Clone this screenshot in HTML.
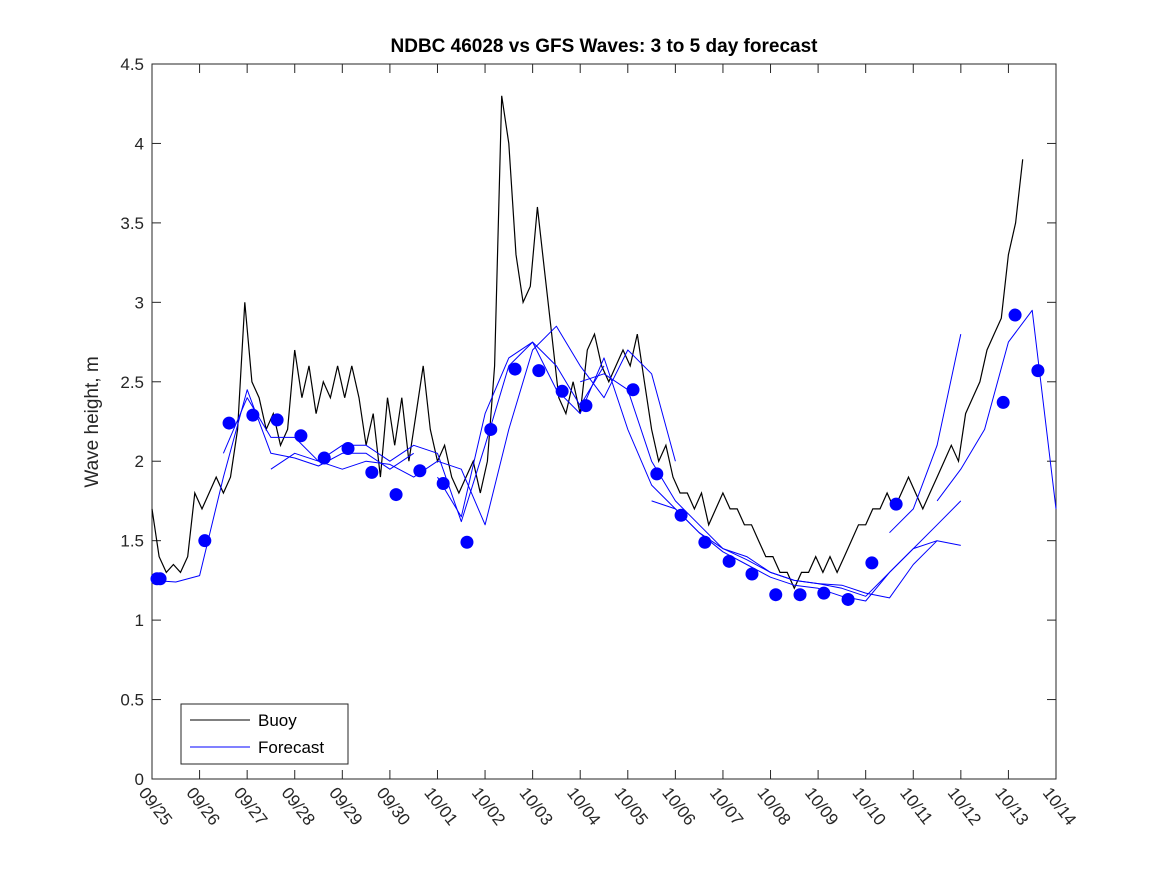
<!DOCTYPE html>
<html><head><meta charset="utf-8"><style>
body{margin:0;background:#fff;}
svg{display:block;font-family:"Liberation Sans","DejaVu Sans",sans-serif;}
</style></head><body>
<svg id="chart" width="1167" height="875" xmlns="http://www.w3.org/2000/svg">
<rect width="1167" height="875" fill="#fff"/>
<text x="604" y="52" text-anchor="middle" font-size="19" font-weight="bold" fill="#000">NDBC 46028 vs GFS Waves: 3 to 5 day forecast</text>
<text transform="translate(98,422) rotate(-90)" text-anchor="middle" font-size="19" fill="#262626">Wave height, m</text>
<g id="plot"></g>
</svg>
<script>
const xTickLabels=["09/25","09/26","09/27","09/28","09/29","09/30","10/01","10/02","10/03","10/04","10/05","10/06","10/07","10/08","10/09","10/10","10/11","10/12","10/13","10/14"];
const yTicks=[0,0.5,1,1.5,2,2.5,3,3.5,4,4.5];
const buoyStep=0.15;
const buoyHs=[1.7,1.4,1.3,1.35,1.3,1.4,1.8,1.7,1.8,1.9,1.8,1.9,2.2,3.0,2.5,2.4,2.2,2.3,2.1,2.2,2.7,2.4,2.6,2.3,2.5,2.4,2.6,2.4,2.6,2.4,2.1,2.3,1.9,2.4,2.1,2.4,2.0,2.3,2.6,2.2,2.0,2.1,1.9,1.8,1.9,2.0,1.8,2.0,2.6,4.3,4.0,3.3,3.0,3.1,3.6,3.2,2.8,2.4,2.3,2.5,2.3,2.7,2.8,2.6,2.5,2.6,2.7,2.6,2.8,2.5,2.2,2.0,2.1,1.9,1.8,1.8,1.7,1.8,1.6,1.7,1.8,1.7,1.7,1.6,1.6,1.5,1.4,1.4,1.3,1.3,1.2,1.3,1.3,1.4,1.3,1.4,1.3,1.4,1.5,1.6,1.6,1.7,1.7,1.8,1.7,1.8,1.9,1.8,1.7,1.8,1.9,2.0,2.1,2.0,2.3,2.4,2.5,2.7,2.8,2.9,3.3,3.5,3.9];
const fcStep=0.5;
const fcStarts=[0,1.5,2.5,6.0,9.0,10.5,15.5,16.5];
const fc1=[1.25,1.24,1.28,1.9,2.45,2.05,2.02,1.97,2.05,2.05,1.95,2.05];
const fc2=[2.05,2.4,2.15,2.15,2.0,2.1,2.1,2.0,2.1,2.05,1.62,2.1,2.6,2.75,2.6,2.35,2.6];
const fc3=[1.95,2.05,2.0,1.95,2.0,1.98,1.9,2.0,1.95,1.6,2.2,2.7,2.85,2.6,2.4,2.7,2.55,2.0];
const fc4=[1.9,1.65,2.3,2.65,2.75,2.45,2.3,2.65,2.2,1.85,1.7,1.55,1.43,1.35,1.27,1.22,1.2,1.15,1.12,1.3,1.45,1.5];
const fc5=[2.5,2.55,2.45,2.0,1.75,1.6,1.45,1.38,1.3,1.25,1.23,1.22,1.17,1.14,1.35,1.5,1.47];
const fc6=[1.75,1.7,1.55,1.45,1.4,1.3,1.25,1.23,1.2,1.15,1.3,1.45,1.6,1.75];
const fc7=[1.55,1.7,2.1,2.8];
const fc8=[1.75,1.95,2.2,2.75,2.95,1.7];
const dotDays=[0.105,0.17,1.11,1.62,2.12,2.63,3.13,3.62,4.12,4.62,5.13,5.63,6.12,6.62,7.12,7.63,8.13,8.62,9.12,10.11,10.61,11.12,11.62,12.13,12.61,13.11,13.62,14.12,14.63,15.13,15.64,17.89,18.14,18.62];
const dotHs=[1.26,1.26,1.5,2.24,2.29,2.26,2.16,2.02,2.08,1.93,1.79,1.94,1.86,1.49,2.2,2.58,2.57,2.44,2.35,2.45,1.92,1.66,1.49,1.37,1.29,1.16,1.16,1.17,1.13,1.36,1.73,2.37,2.92,2.57];
const L=152,R=1056,T=64,B=779;
const xs=d=>L+(R-L)*d/19;
const ys=v=>B-(B-T)*v/4.5;
const NS="http://www.w3.org/2000/svg";
const g=document.getElementById('plot');
function mk(t,a){const e=document.createElementNS(NS,t);for(const k in a)e.setAttribute(k,a[k]);g.appendChild(e);return e;}
const frame=mk('rect',{x:L,y:T,width:R-L,height:B-T,fill:'none',stroke:'#262626','stroke-width':1});


yTicks.forEach(v=>{
  const y=ys(v);
  mk('line',{x1:L,x2:L+9,y1:y,y2:y,stroke:'#262626'});
  mk('line',{x1:R,x2:R-9,y1:y,y2:y,stroke:'#262626'});
  const t=mk('text',{x:L-8,y:y+6,'text-anchor':'end','font-size':17,fill:'#262626'});
  t.textContent=String(v);
  
  
});
xTickLabels.forEach((lab,i)=>{
  const x=xs(i);
  mk('line',{x1:x,x2:x,y1:B,y2:B-9,stroke:'#262626'});
  mk('line',{x1:x,x2:x,y1:T,y2:T+9,stroke:'#262626'});
  const t=mk('text',{transform:`translate(${x-14},${B+14}) rotate(52)`,'font-size':17,fill:'#262626'});
  t.textContent=lab;
  
  
});
const bp=buoyHs.map((v,i)=>`${xs(i*buoyStep).toFixed(1)},${ys(v).toFixed(1)}`).join(' ');
const bl=mk('polyline',{points:bp,fill:'none',stroke:'#000','stroke-width':1.2});


[fc1,fc2,fc3,fc4,fc5,fc6,fc7,fc8].forEach((arr,k)=>{
  const p=arr.map((v,i)=>`${xs(fcStarts[k]+i*fcStep).toFixed(1)},${ys(v).toFixed(1)}`).join(' ');
  const pl=mk('polyline',{points:p,fill:'none',stroke:'#0000ff','stroke-width':1,'stroke-linejoin':'round'});
  
  
});
dotDays.forEach((dd,i)=>{
  const c=mk('circle',{cx:xs(dd),cy:ys(dotHs[i]),r:6.5,fill:'#0000ff'});
  
  
});
const lg=mk('rect',{x:181,y:704,width:167,height:60,fill:'#fff',stroke:'#262626'});


mk('line',{x1:190,x2:250,y1:720,y2:720,stroke:'#000'});
mk('line',{x1:190,x2:250,y1:747,y2:747,stroke:'#0000ff'});
const l1=mk('text',{x:258,y:726,'font-size':17,fill:'#000'});l1.textContent='Buoy';


const l2=mk('text',{x:258,y:753,'font-size':17,fill:'#000'});l2.textContent='Forecast';


</script>
</body></html>
